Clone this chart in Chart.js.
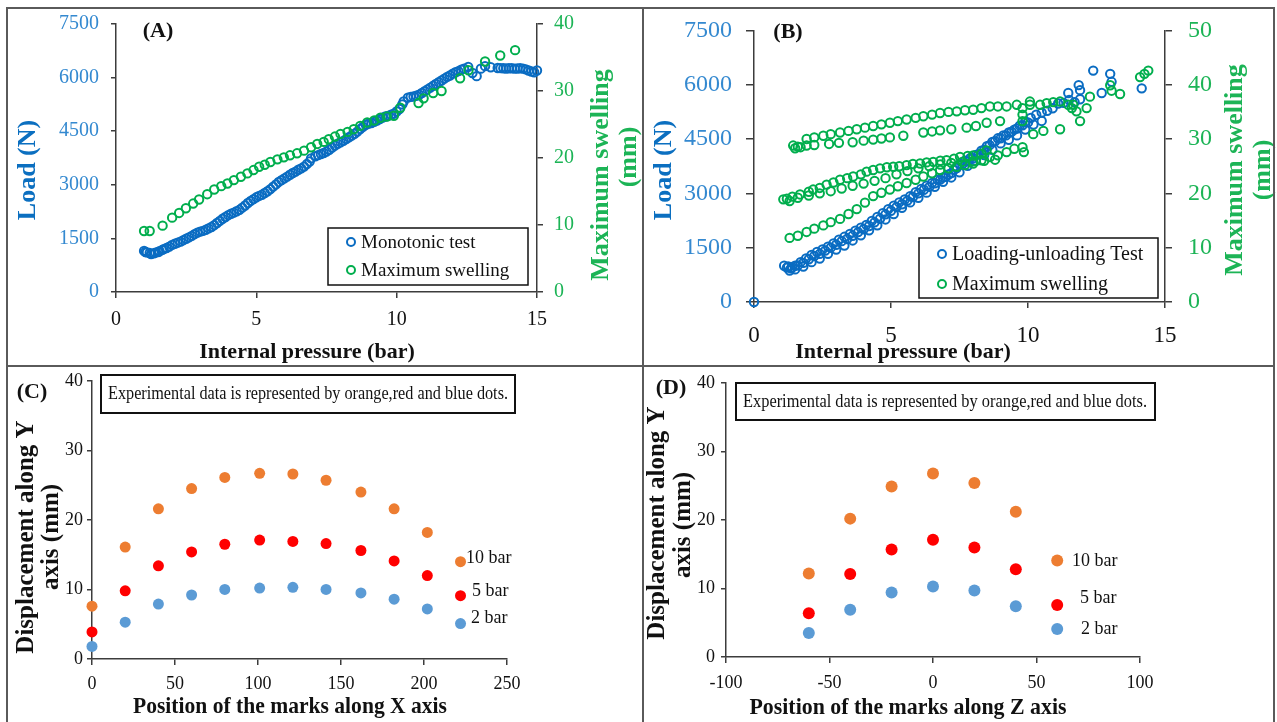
<!DOCTYPE html>
<html>
<head>
<meta charset="utf-8">
<script src="https://cdn.jsdelivr.net/npm/chart.js"></script>
<style>
  html, body { margin: 0; padding: 0; background: #fff; }
  body { width: 1277px; height: 722px; position: relative; overflow: hidden; }
  .panel { position: absolute; }
  .rule { position: absolute; background: #5a5a5a; z-index: 5; }
</style>
</head>
<body>
<div class="panel" style="left:0;top:0;width:643px;height:366px"><canvas id="chartA"></canvas></div>
<div class="panel" style="left:643px;top:0;width:634px;height:366px"><canvas id="chartB"></canvas></div>
<div class="panel" style="left:0;top:366px;width:643px;height:356px"><canvas id="chartC"></canvas></div>
<div class="panel" style="left:643px;top:366px;width:634px;height:356px"><canvas id="chartD"></canvas></div>

<div class="rule" style="left:6px;top:7px;width:1269px;height:2px"></div>
<div class="rule" style="left:6px;top:365px;width:1269px;height:2px"></div>
<div class="rule" style="left:6px;top:7px;width:2px;height:715px"></div>
<div class="rule" style="left:642px;top:7px;width:2px;height:715px"></div>
<div class="rule" style="left:1273px;top:7px;width:2px;height:715px"></div>

<script>
/*=============== DATA ===============*/
// (A) monotonic test: [pressure bar, load N]
const monoLoad = [
  [1.0,1150],[1.1,1110],[1.2,1090],[1.35,1080],[1.5,1120],[1.65,1180],[1.8,1230],[2.0,1320],
  [2.2,1380],[2.4,1450],[2.6,1530],[2.8,1620],[3.0,1690],[3.2,1740],[3.4,1820],[3.6,1930],
  [3.8,2050],[4.0,2150],[4.2,2220],[4.4,2300],[4.6,2420],[4.8,2550],[5.0,2650],[5.2,2720],
  [5.4,2820],[5.6,2950],[5.8,3080],[6.0,3180],[6.2,3280],[6.4,3370],[6.6,3460],[6.8,3580],
  [6.95,3740],[7.1,3800],[7.3,3860],[7.5,3930],[7.7,4040],[7.9,4150],[8.1,4230],[8.3,4330],
  [8.5,4430],[8.7,4560],[8.9,4680],[9.1,4730],[9.3,4800],[9.5,4880],[9.7,4930],[9.9,4990],
  [10.1,5120],[10.25,5330],[10.4,5440],[10.6,5470],[10.8,5520],[11.0,5620],[11.2,5720],[11.4,5820],
  [11.6,5920],[11.8,6020],[12.0,6110],[12.2,6180],[12.4,6250],[12.55,6300],[12.7,6130],[12.85,6040],
  [13.0,6250],[13.15,6320],[13.35,6290],[13.6,6270],[13.8,6260],[14.0,6260],[14.2,6250],[14.4,6260],
  [14.6,6230],[14.8,6170],[14.9,6150],[15.0,6200],
  [1.05,1120],[1.25,1060],[1.4,1100],[1.55,1140],[1.7,1200],[1.9,1270],[2.1,1350],[2.3,1410],
  [2.5,1490],[2.7,1570],[2.9,1660],[3.1,1710],[3.3,1780],[3.5,1870],[3.7,1990],[3.9,2100],
  [4.1,2190],[4.3,2260],[4.5,2360],[4.7,2490],[4.9,2600],[5.1,2690],[5.3,2770],[5.5,2880],
  [5.7,3010],[5.9,3130],[6.1,3230],[6.3,3330],[6.5,3420],[6.7,3510],[6.9,3650],[7.2,3830],
  [7.4,3890],[7.6,3980],[7.8,4100],[8.0,4190],[8.2,4280],[8.4,4380],[8.6,4490],[8.8,4620],
  [9.0,4710],[9.2,4760],[9.4,4840],[9.6,4910],[9.8,4960],[10.0,5050],[10.2,5250],[10.5,5460],
  [10.7,5490],[10.9,5570],[11.1,5670],[11.3,5770],[11.5,5870],[11.7,5970],[11.9,6060],[12.1,6150],
  [12.3,6220],[13.7,6265],[13.9,6255],[14.1,6260],[14.3,6255],[14.5,6250],[14.7,6200]
]
// (A) maximum swelling: [pressure bar, swelling mm]
const monoSwell = [
  [1.0,9.1],[1.2,9.1],[1.66,9.9],[2.0,11.1],[2.25,11.8],[2.49,12.5],[2.75,13.2],[2.96,13.8],
  [3.25,14.6],[3.5,15.3],[3.75,15.8],[3.97,16.2],[4.2,16.7],[4.45,17.2],[4.68,17.7],[4.9,18.2],
  [5.1,18.7],[5.3,19.0],[5.5,19.4],[5.75,19.8],[5.98,20.1],[6.2,20.4],[6.45,20.7],[6.7,21.1],
  [6.95,21.6],[7.17,22.1],[7.4,22.4],[7.58,22.8],[7.8,23.2],[8.0,23.6],[8.25,23.9],[8.47,24.3],
  [8.7,24.8],[8.95,25.3],[9.2,25.6],[9.42,26.0],[9.65,26.2],[9.9,26.3],[10.13,27.5],[10.78,28.2],
  [10.96,28.9],[11.3,29.7],[11.6,30.0],[12.26,31.9],[12.56,33.1],[13.15,34.4],[13.69,35.3],[14.22,36.1]
]

// (B) loading-unloading test: [pressure bar, load N]
const cycLoad = [
  [0,0],
  // loading branch
  [1.1,1000],[1.2,950],[1.3,870],[1.35,930],[1.5,1000],[1.7,1100],[1.9,1200],[2.1,1300],
  [2.3,1380],[2.5,1450],[2.7,1530],[2.9,1620],[3.1,1720],[3.3,1800],[3.5,1880],[3.7,1970],
  [3.9,2050],[4.1,2130],[4.3,2240],[4.5,2350],[4.7,2450],[4.9,2560],[5.1,2660],[5.3,2750],
  [5.5,2830],[5.7,2920],[5.9,3030],[6.1,3120],[6.3,3210],[6.5,3290],[6.7,3380],[6.9,3440],
  [7.1,3520],[7.3,3650],[7.5,3800],[7.7,3900],[7.9,3980],[8.1,4060],[8.3,4180],[8.5,4300],
  [8.7,4420],[8.9,4520],[9.1,4600],[9.3,4680],[9.5,4760],[9.7,4870],[9.9,4980],[10.1,5080],
  [10.3,5170],[10.5,5230],[10.7,5280],[10.9,5350],[11.1,5480],[11.3,5500],[11.5,5580],[11.7,5520],
  [11.9,5600],
  // middle of the band
  [1.25,980],[1.4,960],[1.6,1010],[1.8,1080],[2.0,1180],[2.2,1270],[2.4,1330],[2.6,1420],
  [2.8,1500],[3.0,1580],[3.2,1680],[3.4,1740],[3.6,1830],[3.8,1930],[4.0,2010],[4.2,2100],
  [4.4,2200],[4.6,2300],[4.8,2420],[5.0,2520],[5.2,2620],[5.4,2700],[5.6,2800],[5.8,2900],
  [6.0,3000],[6.2,3100],[6.4,3180],[6.6,3280],[6.8,3380],[7.0,3460],[7.2,3560],[7.4,3700],
  [7.6,3800],[7.8,3880],[8.0,3970],[8.2,4080],[8.4,4200],[8.6,4330],[8.8,4440],[9.0,4520],
  [9.2,4600],[9.4,4700],[9.6,4790],[9.8,4880],[10.0,4960],
  // unloading branch
  [1.5,900],[1.8,980],[2.1,1100],[2.4,1200],[2.7,1330],[3.0,1450],[3.3,1560],[3.6,1700],
  [3.9,1840],[4.2,1980],[4.5,2120],[4.8,2280],[5.1,2430],[5.4,2600],[5.7,2750],[6.0,2880],
  [6.3,3020],[6.6,3180],[6.9,3320],[7.2,3440],[7.5,3580],[7.8,3760],[8.1,3900],[8.4,4060],
  [8.7,4200],[9.0,4380],[9.3,4480],[9.6,4600],[9.9,4760],[10.2,4900],[10.5,5000],
  // scattered peaks
  [11.47,5770],[11.85,5990],[11.9,5850],[12.38,6390],[12.69,5770],[13.0,6300],[13.05,6080],[14.15,5900]
]
// (B) maximum swelling: [pressure bar, swelling mm]
const cycSwell = [
  // top branch
  [1.43,28.8],[1.6,28.6],[1.92,30.0],[2.2,30.3],[2.53,30.6],[2.8,30.9],[3.14,31.2],[3.45,31.5],
  [3.75,31.8],[4.05,32.1],[4.35,32.4],[4.65,32.7],[4.96,33.0],[5.25,33.3],[5.57,33.6],[5.9,33.9],
  [6.18,34.2],[6.5,34.5],[6.79,34.8],[7.1,35.0],[7.4,35.1],[7.7,35.3],[8.0,35.4],[8.3,35.7],
  [8.61,36.0],[8.9,36.0],[9.22,36.0],[9.59,36.3],[10.07,36.3],
  // second branch
  [1.5,28.3],[1.7,28.5],[1.92,28.8],[2.2,28.9],[2.74,29.1],[3.1,29.3],[3.6,29.4],[4.0,29.7],
  [4.35,29.9],[4.65,30.1],[4.96,30.3],[5.45,30.6],[6.18,31.2],[6.5,31.4],[6.79,31.6],[7.2,31.8],
  [7.76,32.1],[8.1,32.4],[8.49,33.0],[8.98,33.3],
  // middle branch
  [1.07,18.9],[1.2,19.0],[1.4,19.4],[1.68,19.8],[2.0,20.3],[2.16,20.7],[2.4,21.0],[2.65,21.6],
  [2.9,22.0],[3.14,22.5],[3.4,22.8],[3.62,23.1],[3.9,23.5],[4.11,24.0],[4.35,24.3],[4.6,24.6],
  [4.85,24.8],[5.08,24.9],[5.3,25.0],[5.57,25.2],[5.8,25.4],[6.06,25.5],[6.3,25.7],[6.54,25.8],
  [6.8,26.0],[7.03,26.1],[7.3,26.4],[7.52,26.7],[7.8,26.9],[8.0,27.0],[8.3,27.3],[8.49,27.9],
  [1.3,18.6],[1.6,19.2],[2.0,19.6],[2.4,20.0],[2.8,20.4],[3.2,20.9],[3.6,21.4],[4.0,21.8],
  [4.4,22.3],[4.8,22.8],[5.2,23.5],[5.6,24.1],[6.0,24.6],[6.4,25.0],[6.8,25.3],[7.2,25.6],
  [7.6,25.8],[8.0,25.9],[8.4,26.0],[8.8,26.2],
  // lower branch
  [1.3,11.8],[1.6,12.2],[1.92,12.9],[2.2,13.5],[2.53,14.1],[2.8,14.7],[3.14,15.3],[3.45,16.2],
  [3.75,17.1],[4.05,18.3],[4.35,19.5],[4.65,20.1],[4.96,20.7],[5.25,21.3],[5.57,21.9],[5.9,22.5],
  [6.18,23.1],[6.5,23.7],[6.79,24.3],[7.1,24.6],[7.4,24.9],[7.7,25.2],[8.0,25.5],[8.3,26.1],
  [8.61,26.7],[8.9,27.0],[9.22,27.6],[9.5,28.2],[9.8,28.5],[9.85,27.6],[10.19,30.9],[10.56,31.5],
  [11.17,31.8],
  // top-right cluster
  [9.8,35.7],[9.8,34.5],[9.8,33.3],[10.07,36.9],[10.44,36.3],[10.68,36.6],[10.92,36.8],[11.17,36.9],
  [11.47,36.3],[11.65,36.3],[11.77,35.1],[11.6,35.7],[11.9,33.3],[12.14,35.7],[12.26,37.8],
  [13.0,39.9],[13.05,38.9],[13.36,38.3],[14.09,41.4],[14.25,42.0],[14.39,42.6]
]

// (C) displacement along Y vs mark position along X
const marksX = [0, 20, 40, 60, 80, 101, 121, 141, 162, 182, 202]
const dispX10 = [7.6, 16.1, 21.6, 24.5, 26.1, 26.7, 26.6, 25.7, 24.0, 21.6, 18.2]
const dispX5  = [3.9, 9.8, 13.4, 15.4, 16.5, 17.1, 16.9, 16.6, 15.6, 14.1, 12.0]
const dispX2  = [1.8, 5.3, 7.9, 9.2, 10.0, 10.2, 10.3, 10.0, 9.5, 8.6, 7.2]

// (D) displacement along Y vs mark position along Z
const marksZ = [-60, -40, -20, 0, 20, 40]
const dispZ10 = [12.2, 20.2, 24.9, 26.8, 25.4, 21.2]
const dispZ5  = [6.4, 12.1, 15.7, 17.1, 16.0, 12.8]
const dispZ2  = [3.5, 6.9, 9.4, 10.3, 9.7, 7.4]

// in-plot keys of (C) and (D): 10 bar, 5 bar, 2 bar
const pressureNames = ['10 bar', '5 bar', '2 bar']
const keyXC = 222, keyYC = [14.0, 9.1, 5.1]
const keyXD = 60,  keyYD = [14.1, 7.6, 4.1]

const noteText = 'Experimental data is represented by orange,red and blue dots.'

/*=============== STYLE ===============*/
const SERIF = "'Liberation Serif', 'Times New Roman', serif"
const AXIS = '#3c3c3c'
const BLUE = '#0A6CC2', GREEN = '#00AE4D'
const BLUE_TXT = '#3489D0', BLUE_TITLE = '#0B6FC0', GREEN_TXT = '#1CB456'
const ORANGE = '#ED7D31', RED = '#FF0000', LIGHTBLUE = '#5B9BD5'

const toPts = pairs => pairs.map(p => ({ x: p[0], y: p[1] }))
const zipPts = (xs, ys) => xs.map((x, i) => ({ x, y: ys[i] }))

const axis = o => ({
  type: 'linear', position: o.pos, min: o.min, max: o.max,
  ticks: {
    stepSize: o.step, color: o.color || '#111', padding: o.pad,
    font: { family: SERIF, size: o.size }, maxRotation: 0, autoSkip: false,
    callback: v => String(v)
  },
  grid: { drawOnChartArea: false, drawTicks: true, tickLength: o.tick || 6, color: AXIS, lineWidth: 1.5 },
  border: { color: AXIS, width: 1.5 },
  afterFit: s => { if (s.isHorizontal()) s.height = o.fit; else s.width = o.fit }
})

/*=============== TEXT / KEY PLUGIN ===============*/
const panelText = {
  id: 'panelText',
  afterDraw(chart, args, opts) {
    const ctx = chart.ctx
    ;(opts.boxes || []).forEach(b => {
      ctx.save()
      ctx.strokeStyle = '#111'
      ctx.lineWidth = b.lw || 1.5
      ctx.strokeRect(b.x, b.y, b.w, b.h)
      ctx.restore()
    })
    ;(opts.keys || []).forEach(k => {
      ctx.save()
      ctx.beginPath()
      ctx.arc(k.x, k.y, 4, 0, Math.PI * 2)
      ctx.strokeStyle = k.color
      ctx.lineWidth = 2
      ctx.stroke()
      ctx.fillStyle = '#111'
      ctx.font = k.font
      ctx.textAlign = 'left'
      ctx.textBaseline = 'middle'
      ctx.fillText(k.text, k.x + 10, k.y + 1)
      ctx.restore()
    })
    ;(opts.items || []).forEach(t => {
      ctx.save()
      ctx.font = t.font
      ctx.fillStyle = t.color || '#111'
      ctx.textAlign = t.align || 'center'
      ctx.textBaseline = 'middle'
      ctx.translate(t.x, t.y)
      if (t.rotate) ctx.rotate(t.rotate * Math.PI / 180)
      if (t.maxWidth) ctx.fillText(t.text, 0, 0, t.maxWidth)
      else ctx.fillText(t.text, 0, 0)
      ctx.restore()
    })
  }
}

const base = {
  responsive: true, maintainAspectRatio: false, animation: false, events: [],
  plugins: { legend: { display: false }, tooltip: { enabled: false } }
}

const openCircle = (data, color, yAxisID) => ({
  data, yAxisID, showLine: false, clip: false, pointStyle: 'circle', pointRadius: 4.2,
  borderWidth: 2, borderColor: color, backgroundColor: 'rgba(0,0,0,0)'
})
const dot = (data, color, r) => ({
  data, showLine: false, clip: false, pointStyle: 'circle', pointRadius: r,
  borderWidth: 0, borderColor: color, backgroundColor: color
})

/*=============== (A) ===============*/
new Chart(document.getElementById('chartA'), {
  type: 'scatter',
  data: { datasets: [
    openCircle(toPts(monoSwell), GREEN, 'y2'),
    openCircle(toPts(monoLoad), BLUE, 'y')
  ] },
  options: { ...base,
    layout: { padding: { left: 46, right: 56, top: 20, bottom: 34 } },
    scales: {
      x: axis({ pos: 'bottom', min: 0, max: 15, step: 5, size: 20, pad: 10, fit: 40 }),
      y: axis({ pos: 'left', min: 0, max: 7500, step: 1500, size: 20, pad: 12, fit: 70, color: BLUE_TXT, tick: 5 }),
      y2: axis({ pos: 'right', min: 0, max: 40, step: 10, size: 20, pad: 11, fit: 50, color: GREEN_TXT, tick: 6 })
    },
    plugins: { ...base.plugins, panelText: {
      boxes: [{ x: 328, y: 228, w: 200, h: 57 }],
      keys: [
        { x: 351, y: 242, color: BLUE, text: 'Monotonic test', font: `19px ${SERIF}` },
        { x: 351, y: 270, color: GREEN, text: 'Maximum swelling', font: `19px ${SERIF}` }
      ],
      items: [
        { text: '(A)', x: 158, y: 31, font: `bold 22px ${SERIF}` },
        { text: 'Load (N)', x: 28, y: 170, rotate: -90, color: BLUE_TITLE, font: `bold 26px ${SERIF}` },
        { text: 'Maximum swelling', x: 601, y: 175, rotate: -90, color: GREEN_TXT, font: `bold 26px ${SERIF}` },
        { text: '(mm)', x: 629, y: 157, rotate: -90, color: GREEN_TXT, font: `bold 26px ${SERIF}` },
        { text: 'Internal pressure (bar)', x: 307, y: 352, font: `bold 22px ${SERIF}` }
      ]
    } }
  },
  plugins: [panelText]
})

/*=============== (B) ===============*/
new Chart(document.getElementById('chartB'), {
  type: 'scatter',
  data: { datasets: [
    openCircle(toPts(cycSwell), GREEN, 'y2'),
    openCircle(toPts(cycLoad), BLUE, 'y')
  ] },
  options: { ...base,
    layout: { padding: { left: 31, right: 62, top: 24, bottom: 14 } },
    scales: {
      x: axis({ pos: 'bottom', min: 0, max: 15, step: 5, size: 23, pad: 14, fit: 50 }),
      y: axis({ pos: 'left', min: 0, max: 7500, step: 1500, size: 24, pad: 14, fit: 80, color: BLUE_TXT, tick: 8 }),
      y2: axis({ pos: 'right', min: 0, max: 50, step: 10, size: 24, pad: 16, fit: 50, color: GREEN_TXT, tick: 7 })
    },
    plugins: { ...base.plugins, panelText: {
      boxes: [{ x: 276, y: 238, w: 239, h: 60 }],
      keys: [
        { x: 299, y: 254, color: BLUE, text: 'Loading-unloading Test', font: `20px ${SERIF}` },
        { x: 299, y: 284, color: GREEN, text: 'Maximum swelling', font: `20px ${SERIF}` }
      ],
      items: [
        { text: '(B)', x: 145, y: 32, font: `bold 22px ${SERIF}` },
        { text: 'Load (N)', x: 21, y: 170, rotate: -90, color: BLUE_TITLE, font: `bold 26px ${SERIF}` },
        { text: 'Maximum swelling', x: 592, y: 170, rotate: -90, color: GREEN_TXT, font: `bold 26px ${SERIF}` },
        { text: '(mm)', x: 620, y: 170, rotate: -90, color: GREEN_TXT, font: `bold 26px ${SERIF}` },
        { text: 'Internal pressure (bar)', x: 260, y: 352, font: `bold 22px ${SERIF}` }
      ]
    } }
  },
  plugins: [panelText]
})

/*=============== (C) ===============*/
new Chart(document.getElementById('chartC'), {
  type: 'scatter',
  data: { datasets: [
    dot(zipPts(marksX, dispX10), ORANGE, 5.5),
    dot(zipPts(marksX, dispX5), RED, 5.5),
    dot(zipPts(marksX, dispX2), LIGHTBLUE, 5.5),
    dot(keyYC.slice(0, 1).map(y => ({ x: keyXC, y })), ORANGE, 5.5),
    dot(keyYC.slice(1, 2).map(y => ({ x: keyXC, y })), RED, 5.5),
    dot(keyYC.slice(2, 3).map(y => ({ x: keyXC, y })), LIGHTBLUE, 5.5)
  ] },
  options: { ...base,
    layout: { padding: { left: 42, right: 136, top: 10, bottom: 23 } },
    scales: {
      x: axis({ pos: 'bottom', min: 0, max: 250, step: 50, size: 18, pad: 8, fit: 40 }),
      y: axis({ pos: 'left', min: 0, max: 40, step: 10, size: 18, pad: 4, fit: 50, tick: 5 })
    },
    plugins: { ...base.plugins, panelText: {
      boxes: [{ x: 101, y: 9, w: 414, h: 38, lw: 2 }],
      items: [
        { text: noteText, x: 308, y: 28, maxWidth: 400, font: `18px ${SERIF}` },
        { text: '(C)', x: 32, y: 26, font: `bold 22px ${SERIF}` },
        { text: 'Displacement along Y', x: 27, y: 171, rotate: -90, maxWidth: 240, font: `bold 25px ${SERIF}` },
        { text: 'axis (mm)', x: 52, y: 171, rotate: -90, font: `bold 25px ${SERIF}` },
        { text: 'Position of the marks along X axis', x: 290, y: 341, maxWidth: 314, font: `bold 24px ${SERIF}` },
        { text: pressureNames[0], x: 466, y: 192, align: 'left', font: `18px ${SERIF}` },
        { text: pressureNames[1], x: 472, y: 225, align: 'left', font: `18px ${SERIF}` },
        { text: pressureNames[2], x: 471, y: 252, align: 'left', font: `18px ${SERIF}` }
      ]
    } }
  },
  plugins: [panelText]
})

/*=============== (D) ===============*/
new Chart(document.getElementById('chartD'), {
  type: 'scatter',
  data: { datasets: [
    dot(zipPts(marksZ, dispZ10), ORANGE, 6),
    dot(zipPts(marksZ, dispZ5), RED, 6),
    dot(zipPts(marksZ, dispZ2), LIGHTBLUE, 6),
    dot(keyYD.slice(0, 1).map(y => ({ x: keyXD, y })), ORANGE, 6),
    dot(keyYD.slice(1, 2).map(y => ({ x: keyXD, y })), RED, 6),
    dot(keyYD.slice(2, 3).map(y => ({ x: keyXD, y })), LIGHTBLUE, 6)
  ] },
  options: { ...base,
    layout: { padding: { left: 33, right: 137, top: 17, bottom: 25 } },
    scales: {
      x: axis({ pos: 'bottom', min: -100, max: 100, step: 50, size: 18, pad: 9, fit: 40 }),
      y: axis({ pos: 'left', min: 0, max: 40, step: 10, size: 18, pad: 6, fit: 50, tick: 5 })
    },
    plugins: { ...base.plugins, panelText: {
      boxes: [{ x: 93, y: 17, w: 419, h: 37, lw: 2 }],
      items: [
        { text: noteText, x: 302, y: 36, maxWidth: 404, font: `18px ${SERIF}` },
        { text: '(D)', x: 28, y: 22, font: `bold 22px ${SERIF}` },
        { text: 'Displacement along Y', x: 15, y: 157, rotate: -90, maxWidth: 247, font: `bold 25px ${SERIF}` },
        { text: 'axis (mm)', x: 41, y: 159, rotate: -90, font: `bold 25px ${SERIF}` },
        { text: 'Position of the marks along Z axis', x: 265, y: 342, maxWidth: 317, font: `bold 24px ${SERIF}` },
        { text: pressureNames[0], x: 429, y: 195, align: 'left', font: `18px ${SERIF}` },
        { text: pressureNames[1], x: 437, y: 232, align: 'left', font: `18px ${SERIF}` },
        { text: pressureNames[2], x: 438, y: 263, align: 'left', font: `18px ${SERIF}` }
      ]
    } }
  },
  plugins: [panelText]
})
</script>
</body>
</html>
